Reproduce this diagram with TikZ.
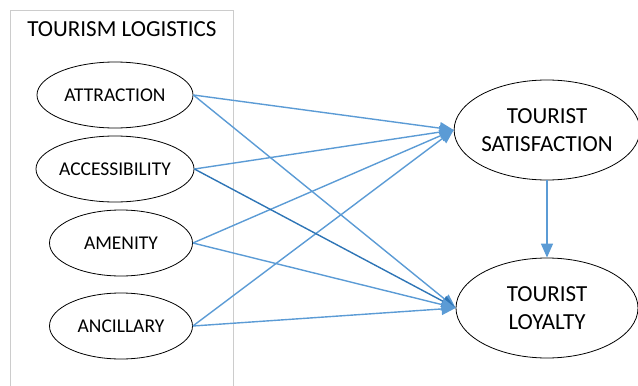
\documentclass[tikz,border=0pt]{standalone}
\usepackage{fontspec}
\setmainfont{Carlito}
\usetikzlibrary{arrows.meta,positioning,shapes.geometric}

\definecolor{linkblue}{HTML}{5B9BD5}
\definecolor{darkblue}{HTML}{2E75B6}

\begin{document}
\begin{tikzpicture}[
  x=1pt, y=-1pt,
  factor/.style={ellipse, draw, thick, minimum width=143pt, minimum height=66pt, inner sep=0pt, font=\fontsize{19.5}{22}\selectfont},
  outcome/.style={ellipse, draw, thick, minimum width=182pt, minimum height=100pt, inner sep=0pt, align=center, font=\fontsize{23}{28}\selectfont},
  arrow/.style={-{Triangle[length=14pt, width=12pt]}, line width=1.4pt, linkblue}
]
\useasboundingbox (0,0) rectangle (638,386);

% Logistics group frame
\draw[gray!40, line width=1pt] (10,400) -- (10,10) -- (233,10) -- (233,400);
\node[font=\fontsize{23}{26}\selectfont] (title) at (122,29) {TOURISM LOGISTICS};

% Logistics factors
\node[factor, minimum width=156pt] (attr) at (115,95) {ATTRACTION};
\node[factor, minimum width=156pt] (acc) at (115,169) {ACCESSIBILITY};
\node[factor] (amen) at (121,243) {AMENITY};
\node[factor] (anc) at (121,326) {ANCILLARY};

% Outcomes
\node[outcome] (sat) at (547,130) {TOURIST\\SATISFACTION};
\node[outcome] (loy) at (547,308) {TOURIST\\LOYALTY};

% Paths to satisfaction
\draw[arrow] (attr.east) -- (sat.west);
\draw[arrow] (acc.east) -- (sat.west);
\draw[arrow] (amen.east) -- (sat.west);
\draw[arrow] (anc.east) -- (sat.west);

% Paths to loyalty
\draw[arrow] (attr.east) -- (loy.west);
\draw[arrow, darkblue] (acc.east) -- (loy.west);
\draw[arrow] (amen.east) -- (loy.west);
\draw[arrow] (anc.east) -- (loy.west);

% Satisfaction to loyalty
\draw[arrow] (sat.south) -- (loy.north);

\end{tikzpicture}
\end{document}
